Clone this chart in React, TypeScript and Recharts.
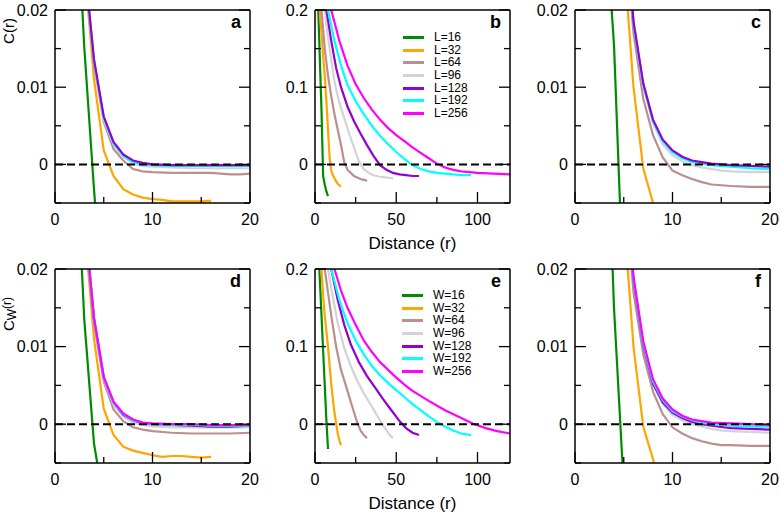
import React from 'react';
import { LineChart, Line, XAxis, YAxis, ReferenceLine, Label, Legend } from 'recharts';

type Pt = [number, number];

const SIZES = [16, 32, 64, 96, 128, 192, 256];
const COLORS = ['#008c00', '#ffa500', '#bc8f8f', '#d3d3d3', '#9400d3', '#00ffff', '#ff00ff'];

// tick values
const smallXMajor = [0, 10, 20];
const smallXMinor = [5, 15];
const wideXMajor = [0, 50, 100];
const wideXMinor = [25, 75];
const smallYMajor = [0, 0.01, 0.02];
const smallYMinor = [-0.005, 0.005, 0.015];
const wideYMajor = [0, 0.1, 0.2];
const wideYMinor = [-0.05, 0.05, 0.15];

// panel a : C(r), zoom near zero
const aL16: Pt[] = [[1, 0.08], [2, 0.04], [3, 0.0152], [4, -0.0032], [5, -0.02]];
const aL32: Pt[] = [[2, 0.06], [3, 0.026], [4, 0.011], [5, 0.0018], [6, -0.0015], [7, -0.0032], [8, -0.0039], [9, -0.0043], [10, -0.0045], [11, -0.0046], [12, -0.0048], [13, -0.0048], [14, -0.0048], [15, -0.0048], [16, -0.0047]];
const aL64: Pt[] = [[2, 0.06], [3, 0.026], [4, 0.013], [5, 0.0055], [6, 0.002], [7, 0.0005], [8, -0.0006], [9, -0.0009], [10, -0.001], [12, -0.0011], [14, -0.0011], [16, -0.0011], [17, -0.0012], [18, -0.0013], [19, -0.0013], [20, -0.0012], [22, -0.0012]];
const aL96: Pt[] = [[2, 0.06], [3, 0.026], [4, 0.0134], [5, 0.0058], [6, 0.0026], [7, 0.001], [8, 0.0001], [9, -0.0002], [10, -0.0003], [12, -0.0004], [14, -0.0005], [16, -0.0005], [18, -0.0005], [20, -0.0005], [22, -0.0005]];
const aL128: Pt[] = [[2, 0.06], [3, 0.0264], [4, 0.0136], [5, 0.0062], [6, 0.0029], [7, 0.0013], [8, 0.0005], [9, 0.0002], [10, 0], [12, -0.0001], [14, -0.0001], [16, -0.0001], [18, -0.0001], [20, -0.0001], [22, -0.0001]];
const aL192: Pt[] = [[2, 0.06], [3, 0.0262], [4, 0.0134], [5, 0.006], [6, 0.0027], [7, 0.0011], [8, 0.0003], [9, 0], [10, -0.0001], [12, -0.0002], [14, -0.0002], [16, -0.0002], [18, -0.0002], [20, -0.0002], [22, -0.0002]];

// panel b : C(r), full range
const bL16: Pt[] = [[1, 0.45], [2, 0.2], [3, 0.135], [4, 0.07], [5, -0.015], [6, -0.026], [7, -0.035], [8, -0.041]];
const bL32: Pt[] = [[2, 0.3], [3, 0.2], [4, 0.17], [5, 0.14], [6, 0.115], [7, 0.082], [8, 0.045], [9, 0.008], [10, -0.008], [11, -0.014], [12, -0.018], [13, -0.022], [14, -0.025], [15, -0.027], [16, -0.029]];
const bL64: Pt[] = [[3, 0.26], [4, 0.2], [6, 0.15], [8, 0.115], [10, 0.088], [12, 0.065], [14, 0.045], [16, 0.025], [18, 0.003], [20, -0.007], [22, -0.011], [24, -0.015], [26, -0.017], [28, -0.019], [30, -0.02], [32, -0.021]];
const bL96: Pt[] = [[4, 0.26], [6, 0.2], [8, 0.165], [10, 0.135], [12, 0.107], [15, 0.08], [18, 0.06], [21, 0.04], [24, 0.022], [27, 0.004], [30, -0.006], [33, -0.011], [36, -0.014], [40, -0.016], [44, -0.017], [48, -0.018]];
const bL128: Pt[] = [[5, 0.26], [7, 0.2], [10, 0.16], [13, 0.125], [16, 0.1], [20, 0.075], [24, 0.056], [28, 0.04], [32, 0.025], [36, 0.011], [40, -0.001], [44, -0.007], [48, -0.011], [52, -0.013], [56, -0.014], [60, -0.015], [64, -0.015]];
const bL192: Pt[] = [[6, 0.24], [8, 0.2], [12, 0.16], [16, 0.128], [20, 0.103], [25, 0.082], [30, 0.065], [35, 0.05], [40, 0.037], [45, 0.026], [50, 0.016], [55, 0.007], [60, -0.001], [65, -0.006], [70, -0.009], [75, -0.011], [80, -0.012], [85, -0.013], [90, -0.014], [96, -0.014]];
const bL256: Pt[] = [[7, 0.24], [10, 0.2], [15, 0.16], [20, 0.128], [25, 0.104], [30, 0.086], [35, 0.071], [40, 0.058], [45, 0.047], [50, 0.038], [55, 0.03], [60, 0.022], [65, 0.015], [70, 0.008], [75, 0.001], [80, -0.004], [85, -0.007], [90, -0.009], [100, -0.011], [110, -0.012], [120, -0.013], [128, -0.013]];

// panel c
const cL16: Pt[] = [[2, 0.1], [3, 0.034], [4, 0.0155], [5, -0.018]];
const cL32: Pt[] = [[3, 0.08], [4, 0.045], [5, 0.027], [6, 0.01], [7, -0.0005], [8, -0.005], [9, -0.009], [10, -0.012]];
const cL64: Pt[] = [[4, 0.06], [5, 0.032], [6, 0.017], [7, 0.0085], [8, 0.0038], [9, 0.0009], [10, -0.0008], [11, -0.0014], [12, -0.0019], [13, -0.0023], [14, -0.0026], [15, -0.0027], [16, -0.0028], [18, -0.0029], [20, -0.0029], [22, -0.0029]];
const cL96: Pt[] = [[4, 0.065], [5, 0.035], [6, 0.0185], [7, 0.0102], [8, 0.0053], [9, 0.0026], [10, 0.0012], [11, 0.0004], [12, -0.0001], [13, -0.0004], [14, -0.0006], [15, -0.0008], [16, -0.0009], [18, -0.001], [20, -0.001], [22, -0.001]];
const cL128: Pt[] = [[4, 0.065], [5, 0.035], [6, 0.0185], [7, 0.0105], [8, 0.0058], [9, 0.0032], [10, 0.0018], [11, 0.001], [12, 0.0005], [13, 0.0003], [14, 0.0001], [15, 0], [16, -0.0001], [18, -0.0002], [20, -0.0003], [22, -0.0003]];
const cL192: Pt[] = [[4, 0.065], [5, 0.035], [6, 0.0183], [7, 0.0103], [8, 0.0056], [9, 0.003], [10, 0.0016], [11, 0.0008], [12, 0.0003], [13, 0.0001], [14, -0.0001], [15, -0.0002], [16, -0.0003], [18, -0.0005], [20, -0.0006], [22, -0.0006]];

// panel d : C_W(r), zoom near zero
const dW16: Pt[] = [[1, 0.1], [2, 0.04], [3, 0.0135], [4, -0.0025], [5, -0.01]];
const dW32: Pt[] = [[2, 0.06], [3, 0.026], [4, 0.011], [5, 0.002], [6, -0.0014], [7, -0.0029], [8, -0.0034], [9, -0.0037], [10, -0.004], [11, -0.0042], [12, -0.0041], [13, -0.0041], [14, -0.0042], [15, -0.0043], [16, -0.0042]];
const dW64: Pt[] = [[2, 0.06], [3, 0.026], [4, 0.013], [5, 0.0055], [6, 0.0019], [7, 0.0004], [8, -0.0004], [9, -0.0007], [10, -0.0009], [12, -0.0011], [14, -0.0012], [16, -0.0012], [18, -0.0012], [20, -0.0011], [22, -0.0011]];
const dW96: Pt[] = [[2, 0.06], [3, 0.0265], [4, 0.0135], [5, 0.0058], [6, 0.0025], [7, 0.001], [8, 0.0002], [9, -0.0001], [10, -0.0003], [12, -0.0004], [14, -0.0004], [16, -0.0004], [18, -0.0004], [20, -0.0004], [22, -0.0004]];
const dW128: Pt[] = [[2, 0.06], [3, 0.027], [4, 0.0136], [5, 0.006], [6, 0.0028], [7, 0.0012], [8, 0.0005], [9, 0.0001], [10, 0], [12, -0.0001], [14, -0.0002], [16, -0.0003], [18, -0.0003], [20, -0.0002], [22, -0.0002]];
const dW192: Pt[] = [[2, 0.06], [3, 0.027], [4, 0.0136], [5, 0.006], [6, 0.0028], [7, 0.0013], [8, 0.0005], [9, 0.0002], [10, 0], [12, -0.0001], [14, -0.0001], [16, -0.0002], [18, -0.0002], [20, -0.0002], [22, -0.0002]];
const dW256: Pt[] = [[2, 0.06], [3, 0.027], [4, 0.0137], [5, 0.0061], [6, 0.0029], [7, 0.0014], [8, 0.0006], [9, 0.0002], [10, 0.0001], [12, 0], [14, 0], [16, -0.0001], [18, -0.0001], [20, -0.0001], [22, -0.0001]];

// panel e : C_W(r), full range
const eW16: Pt[] = [[1, 0.3], [2, 0.23], [3, 0.185], [4, 0.14], [5, 0.095], [6, 0.05], [7, 0.005], [8, -0.032]];
const eW32: Pt[] = [[2, 0.3], [3, 0.24], [4, 0.2], [5, 0.165], [6, 0.14], [7, 0.12], [8, 0.1], [9, 0.075], [10, 0.052], [11, 0.032], [12, 0.015], [13, 0.001], [14, -0.012], [15, -0.021], [16, -0.027]];
const eW64: Pt[] = [[4, 0.25], [6, 0.2], [8, 0.17], [10, 0.14], [13, 0.1], [16, 0.07], [20, 0.043], [23, 0.022], [26, 0.002], [28, -0.008], [30, -0.014], [32, -0.018]];
const eW96: Pt[] = [[6, 0.24], [8, 0.2], [10, 0.175], [14, 0.13], [18, 0.098], [22, 0.075], [26, 0.056], [30, 0.04], [34, 0.026], [38, 0.012], [41, 0.001], [44, -0.008], [46, -0.014], [48, -0.018]];
const eW128: Pt[] = [[7, 0.24], [10, 0.2], [14, 0.16], [18, 0.128], [22, 0.103], [27, 0.08], [32, 0.062], [37, 0.047], [42, 0.032], [47, 0.018], [52, 0.004], [56, -0.005], [60, -0.011], [64, -0.014]];
const eW192: Pt[] = [[7, 0.25], [10, 0.2], [15, 0.16], [20, 0.13], [25, 0.108], [30, 0.09], [35, 0.075], [40, 0.063], [45, 0.053], [50, 0.044], [55, 0.035], [60, 0.026], [65, 0.018], [70, 0.01], [75, 0.003], [80, -0.003], [85, -0.008], [90, -0.012], [96, -0.014]];
const eW256: Pt[] = [[8, 0.24], [12, 0.2], [16, 0.172], [20, 0.15], [25, 0.128], [30, 0.108], [35, 0.093], [40, 0.08], [45, 0.07], [50, 0.06], [55, 0.051], [60, 0.043], [70, 0.03], [80, 0.018], [90, 0.008], [97, 0.001], [105, -0.005], [112, -0.009], [120, -0.012], [128, -0.014]];

// panel f
const fW16: Pt[] = [[2, 0.12], [3, 0.05], [4, 0.015], [5, -0.008]];
const fW32: Pt[] = [[3, 0.08], [4, 0.045], [5, 0.027], [6, 0.01], [7, -0.0003], [8, -0.0045], [9, -0.009], [10, -0.012]];
const fW64: Pt[] = [[4, 0.06], [5, 0.032], [6, 0.017], [7, 0.009], [8, 0.0042], [9, 0.0013], [10, -0.0004], [11, -0.0012], [12, -0.0018], [13, -0.0022], [14, -0.0025], [15, -0.0027], [16, -0.0027], [18, -0.0028], [20, -0.0028], [22, -0.0028]];
const fW96: Pt[] = [[4, 0.065], [5, 0.035], [6, 0.0185], [7, 0.0102], [8, 0.0053], [9, 0.0026], [10, 0.0012], [11, 0.0005], [12, 0], [13, -0.0003], [14, -0.0006], [15, -0.0008], [16, -0.0009], [18, -0.001], [20, -0.0011], [22, -0.0011]];
const fW128: Pt[] = [[4, 0.065], [5, 0.035], [6, 0.0185], [7, 0.0102], [8, 0.0052], [9, 0.0028], [10, 0.0015], [11, 0.0008], [12, 0.0003], [13, 0], [14, -0.0002], [16, -0.0005], [18, -0.0006], [20, -0.0007], [22, -0.0007]];
const fW192: Pt[] = [[4, 0.065], [5, 0.035], [6, 0.0187], [7, 0.0104], [8, 0.0055], [9, 0.0031], [10, 0.0017], [11, 0.001], [12, 0.0005], [13, 0.0002], [14, 0], [16, -0.0002], [18, -0.0003], [20, -0.0003], [22, -0.0003]];
const fW256: Pt[] = [[4, 0.066], [5, 0.036], [6, 0.019], [7, 0.0107], [8, 0.0058], [9, 0.0033], [10, 0.0019], [11, 0.0011], [12, 0.0006], [13, 0.0004], [14, 0.0002], [16, 0.0001], [18, 0], [20, -0.0001], [22, -0.0001]];

interface PanelDef {
  letter: string;
  row: number;
  col: number;
  wide: boolean;
  prefix: string;
  series: Pt[][];
  order?: number[]; // drawing order (last one ends up on top)
  yLabel?: 'C' | 'CW';
  xLabel?: boolean;
  legend?: boolean;
}

const PANELS: PanelDef[] = [
  { letter: 'a', row: 0, col: 0, wide: false, prefix: 'L', series: [aL16, aL32, aL64, aL96, aL128, aL192], order: [0, 1, 2, 3, 5, 4], yLabel: 'C' },
  { letter: 'b', row: 0, col: 1, wide: true, prefix: 'L', series: [bL16, bL32, bL64, bL96, bL128, bL192, bL256], xLabel: true, legend: true },
  { letter: 'c', row: 0, col: 2, wide: false, prefix: 'L', series: [cL16, cL32, cL64, cL96, cL128, cL192], order: [0, 1, 2, 3, 5, 4] },
  { letter: 'd', row: 1, col: 0, wide: false, prefix: 'W', series: [dW16, dW32, dW64, dW96, dW128, dW192, dW256], yLabel: 'CW' },
  { letter: 'e', row: 1, col: 1, wide: true, prefix: 'W', series: [eW16, eW32, eW64, eW96, eW128, eW192, eW256], xLabel: true, legend: true },
  { letter: 'f', row: 1, col: 2, wide: false, prefix: 'W', series: [fW16, fW32, fW64, fW96, fW128, fW192, fW256] },
];

const FONT = '"Liberation Sans", Arial, Helvetica, sans-serif';
const MAJOR = 11;
const MINOR = 6;
const AXIS = { stroke: '#000', strokeWidth: 1.5 };

// inward tick marks, drawn by hand so major/minor can differ in length
const bottomTick = (majors: number[]) => (p: any) => {
  const v = p.payload.value;
  const major = majors.includes(v);
  return (
    <g>
      <line x1={p.x} x2={p.x} y1={p.y} y2={p.y - (major ? MAJOR : MINOR)} stroke="#000" strokeWidth={1.3} />
      {major && (
        <text x={p.x} y={p.y + 22} textAnchor="middle" fontSize={16} fontFamily={FONT} fill="#000">
          {String(v)}
        </text>
      )}
    </g>
  );
};

const topTick = (majors: number[]) => (p: any) => {
  const major = majors.includes(p.payload.value);
  return <line x1={p.x} x2={p.x} y1={p.y} y2={p.y + (major ? MAJOR : MINOR)} stroke="#000" strokeWidth={1.3} />;
};

const leftTick = (majors: number[]) => (p: any) => {
  const v = p.payload.value;
  const major = majors.includes(v);
  return (
    <g>
      <line x1={p.x} x2={p.x + (major ? MAJOR : MINOR)} y1={p.y} y2={p.y} stroke="#000" strokeWidth={1.3} />
      {major && (
        <text x={p.x - 7} y={p.y + 5.5} textAnchor="end" fontSize={16} fontFamily={FONT} fill="#000">
          {String(v)}
        </text>
      )}
    </g>
  );
};

const rightTick = (majors: number[]) => (p: any) => {
  const major = majors.includes(p.payload.value);
  return <line x1={p.x} x2={p.x - (major ? MAJOR : MINOR)} y1={p.y} y2={p.y} stroke="#000" strokeWidth={1.3} />;
};

const Panel: React.FC<{ p: PanelDef }> = ({ p }) => {
  const xMax = p.wide ? 120 : 20;
  const yDomain = p.wide ? [-0.05, 0.2] : [-0.005, 0.02];
  const xMaj = p.wide ? wideXMajor : smallXMajor;
  const xTicks = [...xMaj, ...(p.wide ? wideXMinor : smallXMinor)];
  const yMaj = p.wide ? wideYMajor : smallYMajor;
  const yTicks = [...yMaj, ...(p.wide ? wideYMinor : smallYMinor)];
  const topH = p.row === 0 ? 10 : 13;
  const bottomH = p.row === 0 ? 53 : 49;
  const names = SIZES.map((s) => `${p.prefix}=${s}`);
  const order = p.order ?? p.series.map((_, i) => i);

  return (
    <div style={{ position: 'absolute', left: p.col * 260, top: p.row * 256 }}>
      <LineChart width={260} height={256} margin={{ top: 0, right: 0, bottom: 0, left: 0 }}>
        <XAxis
          dataKey="r"
          type="number"
          domain={[0, xMax]}
          allowDataOverflow
          ticks={xTicks}
          interval={0}
          tickSize={0}
          tickMargin={0}
          tickLine={false}
          axisLine={AXIS}
          height={bottomH}
          tick={bottomTick(xMaj)}
        >
          {p.xLabel && (
            <Label
              content={(lp: any) => (
                <text
                  x={lp.viewBox.x + lp.viewBox.width / 2}
                  y={lp.viewBox.y + 45.5}
                  textAnchor="middle"
                  fontSize={17}
                  fontFamily={FONT}
                  fill="#000"
                >
                  Distance (r)
                </text>
              )}
            />
          )}
        </XAxis>
        <XAxis
          xAxisId="top"
          orientation="top"
          type="number"
          domain={[0, xMax]}
          allowDataOverflow
          ticks={xTicks}
          interval={0}
          tickSize={0}
          tickMargin={0}
          tickLine={false}
          axisLine={AXIS}
          height={topH}
          tick={topTick(xMaj)}
        >
          <Label
            content={(lp: any) => (
              <text
                x={lp.viewBox.x + lp.viewBox.width - 9}
                y={lp.viewBox.y + lp.viewBox.height + 18}
                textAnchor="end"
                fontSize={18}
                fontWeight="bold"
                fontFamily={FONT}
                fill="#000"
              >
                {p.letter}
              </text>
            )}
          />
        </XAxis>
        <YAxis
          type="number"
          domain={yDomain}
          allowDataOverflow
          ticks={yTicks}
          interval={0}
          tickSize={0}
          tickMargin={0}
          tickLine={false}
          axisLine={AXIS}
          width={55}
          tick={leftTick(yMaj)}
        >
          {p.yLabel && (
            <Label
              content={() =>
                p.yLabel === 'C' ? (
                  <text x={14} y={31} transform="rotate(-90 14 31)" textAnchor="middle" fontSize={15} fontFamily={FONT} fill="#000">
                    C(r)
                  </text>
                ) : (
                  <text x={14} y={58} transform="rotate(-90 14 58)" textAnchor="middle" fontSize={15} fontFamily={FONT} fill="#000">
                    C
                    <tspan fontSize={12} dy={2}>W</tspan>
                    <tspan fontSize={12} dy={-5}>(r)</tspan>
                  </text>
                )
              }
            />
          )}
        </YAxis>
        <YAxis
          yAxisId="right"
          orientation="right"
          type="number"
          domain={yDomain}
          allowDataOverflow
          ticks={yTicks}
          interval={0}
          tickSize={0}
          tickMargin={0}
          tickLine={false}
          axisLine={AXIS}
          width={10}
          tick={rightTick(yMaj)}
        />
        {order.map((i) => (
          <Line
            key={names[i]}
            name={names[i]}
            data={p.series[i].map(([r, v]) => ({ r, v }))}
            dataKey="v"
            type="linear"
            stroke={COLORS[i]}
            strokeWidth={2.2}
            dot={false}
            activeDot={false}
            isAnimationActive={false}
          />
        ))}
        <ReferenceLine y={0} stroke="#000" strokeWidth={2} strokeDasharray="8 4" />
        {p.legend && (
          <Legend
            layout="vertical"
            align="center"
            verticalAlign="middle"
            wrapperStyle={{ left: p.row === 0 ? 143 : 142, top: p.row === 0 ? 31 : 33, width: 'auto' }}
            content={() => (
              <div style={{ fontFamily: FONT, fontSize: 12, lineHeight: '12.7px', color: '#000' }}>
                {p.series.map((_, i) => (
                  <div key={names[i]} style={{ display: 'flex', alignItems: 'center', height: 12.7 }}>
                    <span style={{ display: 'inline-block', width: 21, height: 3, background: COLORS[i], marginRight: 10 }} />
                    <span>{names[i]}</span>
                  </div>
                ))}
              </div>
            )}
          />
        )}
      </LineChart>
    </div>
  );
}

export default function App() {
  return (
    <div style={{ position: 'absolute', left: 0, top: 0, width: 780, height: 512, background: '#fff' }}>
      {PANELS.map((p) => (
        <Panel key={p.letter} p={p} />
      ))}
    </div>
  );
}
